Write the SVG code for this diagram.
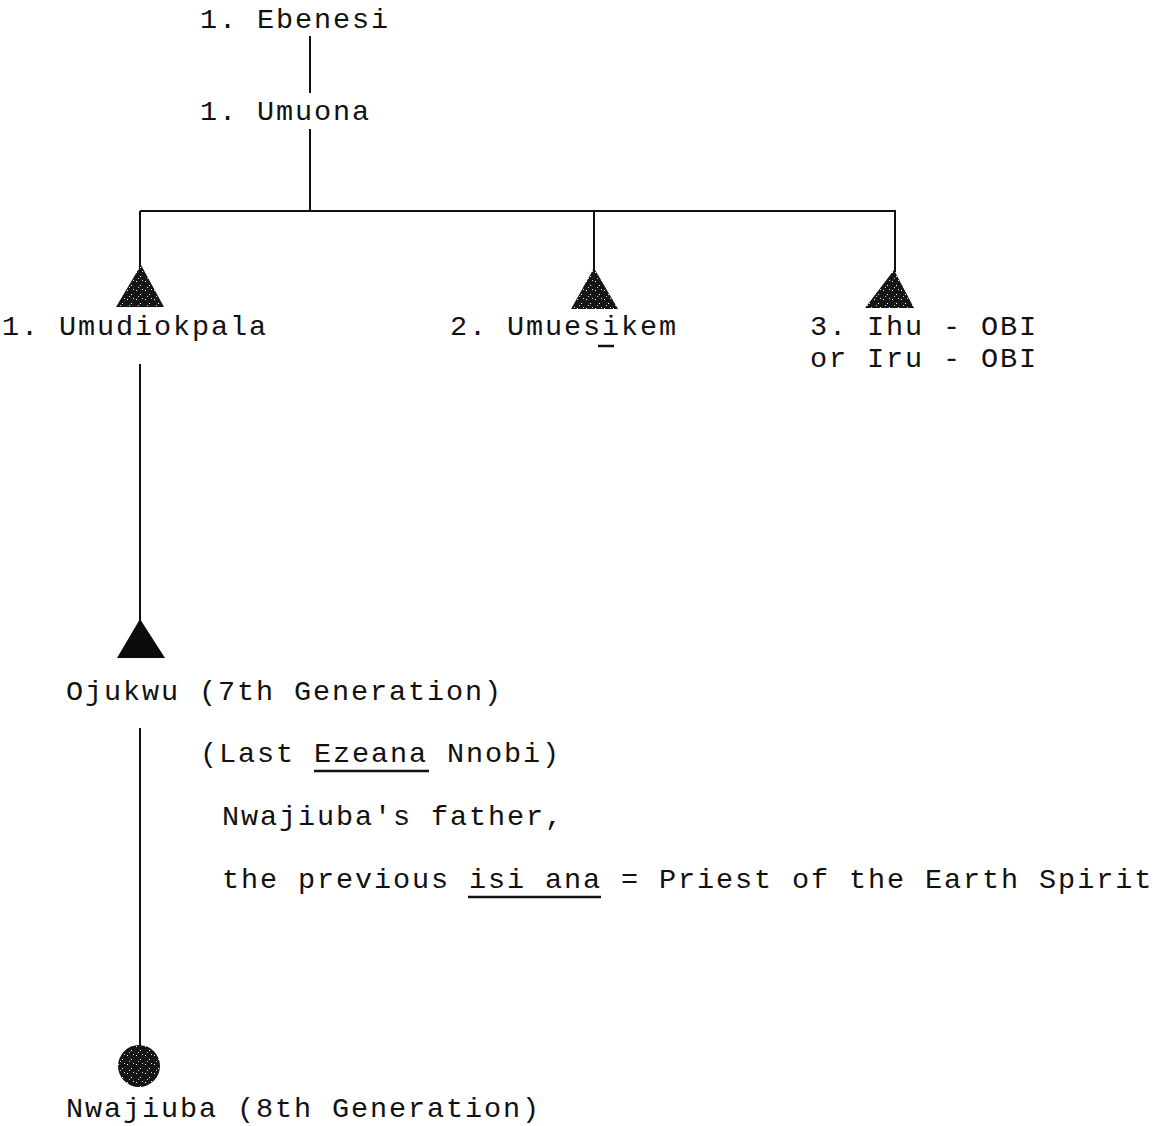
<svg xmlns="http://www.w3.org/2000/svg" width="1159" height="1126" viewBox="0 0 1159 1126">
  <style>
    text { font-family: "Liberation Mono", "DejaVu Sans Mono", monospace; font-size: 28.5px; letter-spacing: 1.9px; fill: #111; }
    .line { stroke: #111; stroke-width: 2; fill: none; }
    .ul { stroke: #111; stroke-width: 2.5; }
    .mark { fill: url(#grain); }
    .solid { fill: #0c0c0c; }
  </style>
  <defs>
    <!-- speckled ink fill for the stippled symbols -->
    <pattern id="grain" width="9" height="9" patternUnits="userSpaceOnUse">
      <rect width="9" height="9" fill="#151515"/>
      <rect x="1" y="2" width="1" height="1" fill="#fff"/>
      <rect x="5" y="6" width="1" height="1" fill="#fff"/>
      <rect x="7" y="1" width="1" height="1" fill="#ddd"/>
      <rect x="3" y="8" width="1" height="1" fill="#ccc"/>
    </pattern>
  </defs>

  <rect width="1159" height="1126" fill="#fff"/>

  <!-- connectors -->
  <g id="connectors">
    <line class="line" x1="310" y1="36" x2="310" y2="93"/>
    <line class="line" x1="310" y1="129" x2="310" y2="211"/>
    <line class="line" x1="140" y1="211" x2="896" y2="211"/>
    <line class="line" x1="140" y1="211" x2="140" y2="268"/>
    <line class="line" x1="594" y1="211" x2="594" y2="270"/>
    <line class="line" x1="895" y1="211" x2="895" y2="272"/>
    <line class="line" x1="140" y1="364" x2="140" y2="622"/>
    <line class="line" x1="140" y1="728" x2="140" y2="1046"/>
  </g>

  <g id="ebenesi">
    <text x="200" y="28">1. Ebenesi</text>
  </g>

  <g id="umuona">
    <text x="200" y="120">1. Umuona</text>
  </g>

  <g id="umudiokpala">
    <polygon class="mark" points="141,265 164,307 116,307"/>
    <text x="2" y="335">1. Umudiokpala</text>
  </g>

  <g id="umuesikem">
    <polygon class="mark" points="594,268 618,309 571,309"/>
    <text x="450" y="335">2. Umuesikem</text>
    <line class="ul" x1="598" y1="346" x2="614" y2="346"/>
  </g>

  <g id="ihu-obi">
    <polygon class="mark" points="894,270 914,308 865,308"/>
    <text x="810" y="335">3. Ihu - OBI</text>
    <text x="810" y="367">or Iru - OBI</text>
  </g>

  <g id="ojukwu">
    <polygon class="solid" points="140,619 165,658 117,658"/>
    <text x="66" y="700">Ojukwu (7th Generation)</text>
    <text x="200" y="762">(Last Ezeana Nnobi)</text>
    <line class="ul" x1="314" y1="771" x2="429" y2="771"/>
    <text x="222" y="825">Nwajiuba's father,</text>
    <text x="222" y="888">the previous isi ana = Priest of the Earth Spirit</text>
    <line class="ul" x1="468" y1="897" x2="601" y2="897"/>
  </g>

  <g id="nwajiuba">
    <circle class="mark" cx="139" cy="1066" r="21"/>
    <text x="66" y="1117">Nwajiuba (8th Generation)</text>
  </g>
</svg>
